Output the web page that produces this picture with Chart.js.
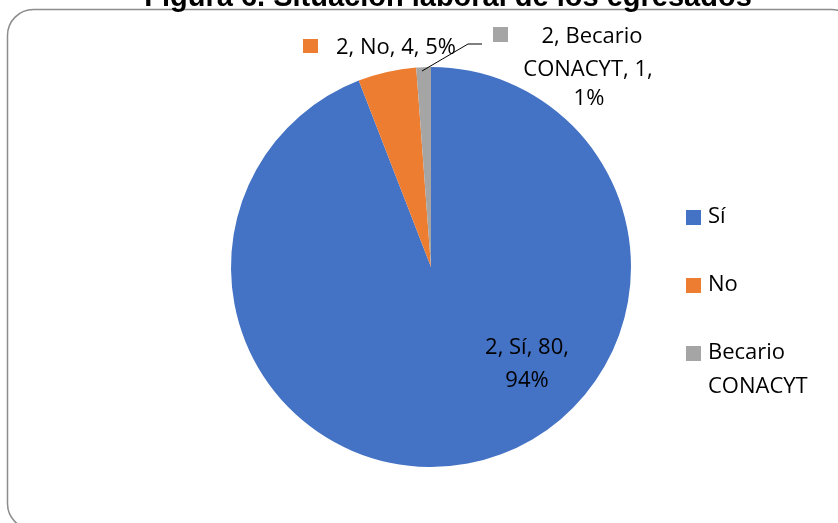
<!DOCTYPE html>
<html>
<head>
<meta charset="utf-8">
<script src="https://cdn.jsdelivr.net/npm/chart.js@4.4.0/dist/chart.umd.min.js"></script>
<style>
  html, body { margin: 0; padding: 0; background: #fff; }
  #wrap { width: 838px; height: 523px; position: relative; }
</style>
</head>
<body>
<div id="wrap"><canvas id="chart" width="838" height="523"></canvas></div>
<script>
const title = "Figura 6. Situación laboral de los egresados";
const categories = ["Sí", "No", "Becario CONACYT"];
const values = [80, 4, 1];
const percents = ["94%", "5%", "1%"];
const seriesName = "2";
const colors = ["#4472C4", "#ED7D31", "#A5A5A5"];

const FONT = "'Open Sans', 'Liberation Sans', sans-serif";

// frame, title, data labels and legend
const decor = {
  id: "decor",
  beforeDraw(chart) {
    const ctx = chart.ctx;
    ctx.save();
    ctx.strokeStyle = "#8c8c8c";
    ctx.lineWidth = 1.5;
    ctx.beginPath();
    ctx.roundRect(7.5, 9.5, 850, 520, 26);
    ctx.stroke();
    ctx.restore();
  },
  afterDraw(chart) {
    const ctx = chart.ctx;
    const arc = chart.getDatasetMeta(0).data[0];
    const cx = arc.x, cy = arc.y;

    ctx.save();
    ctx.fillStyle = "#000";
    ctx.font = "bold 29px 'Liberation Sans', Arial, sans-serif";
    ctx.textAlign = "center";
    ctx.textBaseline = "alphabetic";
    ctx.fillText(title, 448, 6);

    ctx.font = "22px " + FONT;
    ctx.textBaseline = "middle";

    // Sí label, inside
    ctx.fillText(seriesName + ", " + categories[0] + ", " + values[0] + ",", cx + 96, cy + 81);
    ctx.fillText(percents[0], cx + 96, cy + 114);

    // No label, outside with key
    ctx.fillStyle = colors[1];
    ctx.fillRect(cx - 128, cy - 228, 15, 14);
    ctx.fillStyle = "#000";
    ctx.textAlign = "left";
    ctx.fillText(seriesName + ", " + categories[1] + ", " + values[1] + ", " + percents[1], cx - 95, cy - 219);

    // leader line to Becario slice
    ctx.strokeStyle = "#000";
    ctx.lineWidth = 1;
    ctx.beginPath();
    ctx.moveTo(cx - 9, cy - 196);
    ctx.lineTo(cx + 37, cy - 223);
    ctx.lineTo(cx + 51, cy - 223);
    ctx.stroke();

    // Becario label
    ctx.fillStyle = colors[2];
    ctx.fillRect(cx + 62, cy - 240, 15, 15);
    ctx.fillStyle = "#000";
    ctx.textAlign = "center";
    ctx.fillText(seriesName + ", Becario", cx + 161, cy - 230);
    ctx.fillText("CONACYT, " + values[2] + ",", cx + 157, cy - 197);
    ctx.fillText(percents[2], cx + 158, cy - 168);

    // legend
    ctx.textAlign = "left";
    const lx = 686;
    const rows = [[217], [285], [353, 387]];
    const legendText = [["Sí"], ["No"], ["Becario", "CONACYT"]];
    rows.forEach((ys, i) => {
      ctx.fillStyle = colors[i];
      ctx.fillRect(lx, ys[0] - 7, 15, 15);
      ctx.fillStyle = "#000";
      ys.forEach((y, j) => ctx.fillText(legendText[i][j], lx + 22, y));
    });
    ctx.restore();
  }
};

new Chart(document.getElementById("chart"), {
  type: "pie",
  data: {
    labels: categories,
    datasets: [{
      data: values,
      backgroundColor: colors,
      borderColor: "#ffffff",
      borderWidth: 0
    }]
  },
  options: {
    responsive: false,
    animation: false,
    layout: { padding: { top: 67, bottom: 56, left: 231, right: 207 } },
    plugins: {
      legend: { display: false },
      tooltip: { enabled: false }
    }
  },
  plugins: [decor]
});
</script>
</body>
</html>
